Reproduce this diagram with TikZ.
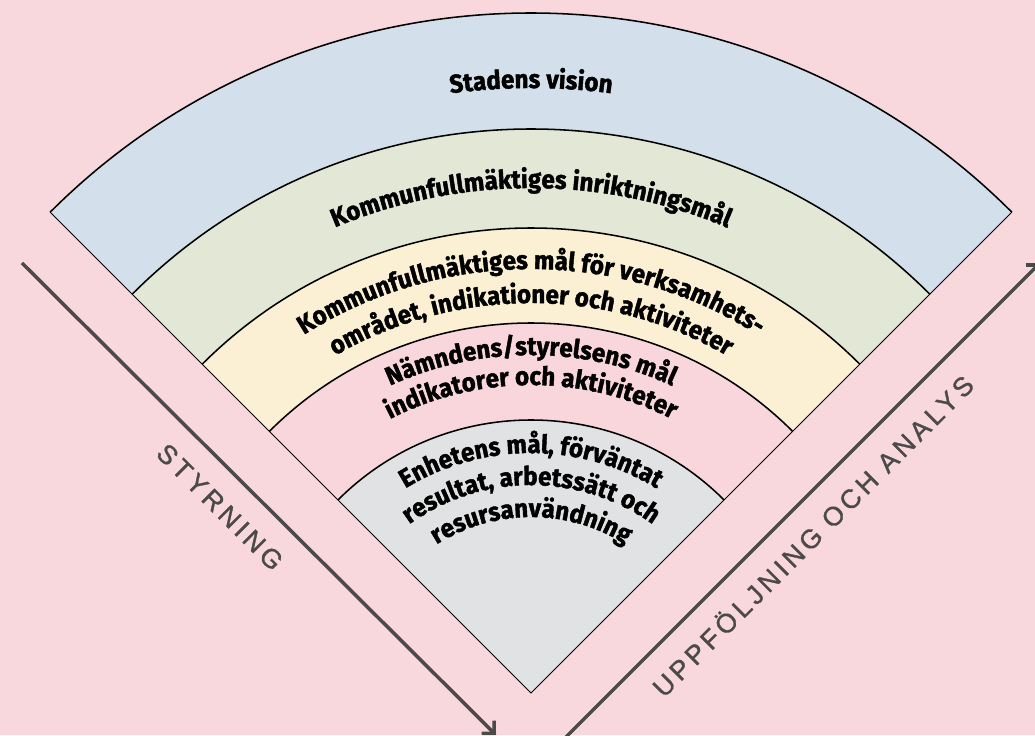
\documentclass[tikz,border=0pt]{standalone}
\usepackage{fontspec}
\newfontfamily\bandfont[FakeStretch=0.94, BoldFeatures={FakeBold=1.6}]{Fira Sans}
\newfontfamily\axisfont[LetterSpace=15, FakeBold=1.2]{Liberation Sans}
\newcommand{\bandstyle}{\bandfont\bfseries\fontsize{18.3}{21}\selectfont}
\usetikzlibrary{arrows.meta, decorations.text}
\definecolor{bgpink}{HTML}{F9D8DD}
\definecolor{visionblue}{HTML}{D3DFEA}
\definecolor{goalgreen}{HTML}{E3E7D5}
\definecolor{cityyellow}{HTML}{FBF0D3}
\definecolor{boardpink}{HTML}{F9D6DB}
\definecolor{unitgrey}{HTML}{E1E2E3}
\definecolor{axisgrey}{HTML}{4A4A4A}
\tikzset{
  band arc/.style={draw=black, line width=1.1pt},
  band edge/.style={draw=black, line width=0.6pt, line join=miter},
  band text/.style={decorate, decoration={text along path, text align=center, text={|\bandstyle|#1}}},
  flow arrow/.style={draw=axisgrey, line width=2.5pt, -{Straight Barb[angle=90:9pt]}},
  axis label/.style={text=axisgrey, font=\axisfont\fontsize{19}{22}\selectfont, inner sep=0pt}
}

\begin{document}
\begin{tikzpicture}
      \useasboundingbox (-13.275, -1.05) rectangle (12.6, 17.325);
      \fill [bgpink] (-13.275, -1.05) rectangle (12.6, 17.325);

      % the fan, outer band first
      \coordinate (apex) at (0, 0);
      \foreach \r/\c in {17.0/visionblue, 14.1/goalgreen, 11.625/cityyellow, 9.25/boardpink, 6.825/unitgrey} {
        \fill [\c] (apex) -- (135:\r) arc [start angle=135, end angle=45, radius=\r] -- cycle;
        \draw [band arc] (135:\r) arc [start angle=135, end angle=45, radius=\r];
      }
      \draw [band edge] (135:17.0) -- (apex) -- (45:17.0);

      % band texts
      \path [band text={Stadens vision}] (135:15.125) arc [start angle=135, end angle=45, radius=15.125];
      \path [band text={Kommunfullmäktiges inriktningsmål}] (135:12.625) arc [start angle=135, end angle=45, radius=12.625];
      \path [band text={Kommunfullmäktiges mål för verksamhets-}] (135:10.6) arc [start angle=135, end angle=45, radius=10.6];
      \path [band text={området, indikationer och aktiviteter}] (135:9.75) arc [start angle=135, end angle=45, radius=9.75];
      \path [band text={Nämndens/styrelsens mål}] (135:8.45) arc [start angle=135, end angle=45, radius=8.45];
      \path [band text={indikatorer och aktiviteter}] (135:7.7) arc [start angle=135, end angle=45, radius=7.7];
      \path [band text={Enhetens mål, förväntat}] (135:6.0) arc [start angle=135, end angle=45, radius=6.0];
      \path [band text={resultat, arbetssätt och}] (135:5.2) arc [start angle=135, end angle=45, radius=5.2];
      \path [band text={resursanvändning}] (135:4.4) arc [start angle=135, end angle=45, radius=4.4];

      % arrows
      \coordinate (steer start) at (-12.725, 10.75);
      \coordinate (steer end) at (-0.875, -1.05);
      \coordinate (follow start) at (0.85, -1.125);
      \coordinate (follow end) at (12.725, 10.75);
      \draw [flow arrow] (steer start) -- (steer end);
      \draw [flow arrow] (follow start) -- (follow end);

      \node (steering) at (-7.775, 4.65) [axis label, rotate=-45] {STYRNING};
      \node (followup) at (7.025, 3.95) [axis label, rotate=45] {UPPFÖLJNING OCH ANALYS};
    \end{tikzpicture}
\end{document}
